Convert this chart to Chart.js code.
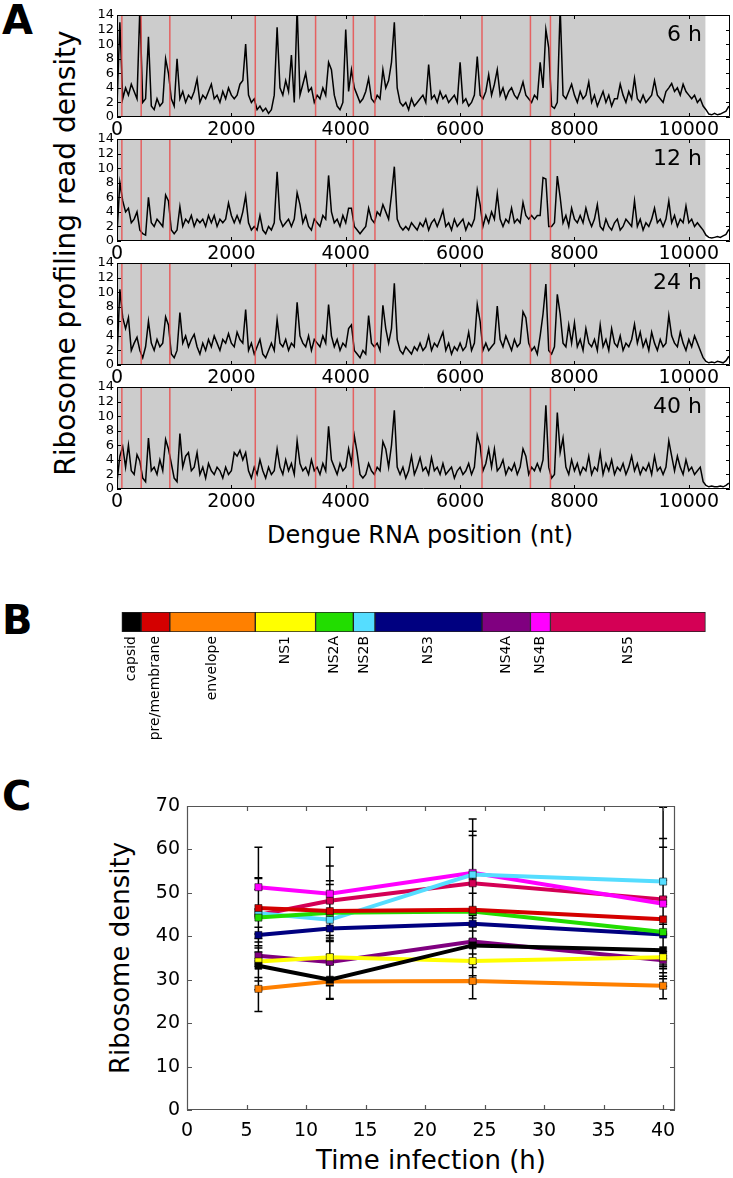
<!DOCTYPE html>
<html>
<head>
<meta charset="utf-8">
<script src="https://cdn.jsdelivr.net/npm/chart.js@4.4.1/dist/chart.umd.min.js"></script>
<style>
  body { margin:0; width:733px; height:1178px; position:relative; background:#fff; overflow:hidden;
         font-family:"DejaVu Sans", sans-serif; color:#000; }
  canvas { position:absolute; left:0; }
  .tag { position:absolute; left:2px; font-weight:bold; font-size:40px; line-height:1; }
  .title { position:absolute; white-space:nowrap; line-height:1; transform:translate(-50%,-50%); }
  .rot { transform:translate(-50%,-50%) rotate(-90deg); }
</style>
</head>
<body>
<div class="tag" style="top:0px">A</div>
<div class="tag" style="top:600px">B</div>
<div class="tag" style="top:776px">C</div>
<div class="title rot" style="left:66px;top:253px;font-size:28px">Ribosome profiling read density</div>
<div class="title" style="left:420px;top:535px;font-size:24px">Dengue RNA position (nt)</div>
<div class="title rot" style="left:120px;top:958px;font-size:26px">Ribosome density</div>
<div class="title" style="left:431px;top:1160px;font-size:26px">Time infection (h)</div>
<script>
// genome map (nt)
const geneNames = ["capsid", "pre/membrane", "envelope", "NS1", "NS2A", "NS2B", "NS3", "NS4A", "NS4B", "NS5"];
const geneStart = [85, 423, 924, 2418, 3473, 4133, 4511, 6383, 7230, 7580];
const geneEnd   = [423, 924, 2418, 3473, 4133, 4511, 6383, 7230, 7580, 10290];
const geneColors = ["#000000", "#d40000", "#ff8000", "#ffff00", "#22dd00", "#55ddff", "#000080", "#800080", "#ff00ff", "#d40055"];

// panel A: read density sampled every 50 nt
const sampleStep = 50;
const genomeLength = 10720;
const positionTicks = [0, 2000, 4000, 6000, 8000, 10000];
const densityTicks = [0, 2, 4, 6, 8, 10, 12, 14];
const timeLabels = ["6 h", "12 h", "24 h", "40 h"];

const density6h = [
  1.5, 13, 2.5, 4, 3, 4.5, 3.5, 2.5, 15, 2,
  2.5, 11, 1.5, 1, 2.5, 1.5, 2, 8, 6, 2.5,
  1.5, 8, 2.5, 3.5, 2, 3, 2.5, 3.5, 5.2, 2,
  3, 2.5, 3.5, 4.5, 2.5, 3, 2, 3.5, 2.5, 4,
  3, 2.5, 3, 4.5, 5, 10, 3, 2, 2.5, 1,
  1.5, 0.8, 1.2, 0.5, 1, 3, 12.3, 4, 3, 5,
  3.5, 8.5, 2, 15, 3, 4.5, 6, 3.5, 4, 2,
  3, 2.5, 4, 3, 7.5, 6.5, 3, 1.5, 1, 2,
  12, 3.5, 6.5, 4, 3, 2, 2.5, 3.5, 5.3, 2.5,
  2, 3, 2.5, 6.5, 4, 5, 7.5, 13, 4, 2,
  1.5, 2, 1, 2.5, 1.5, 2, 2.5, 3, 2, 7.2,
  2.5, 3, 2, 3.5, 2.5, 3, 2, 2.5, 3, 2,
  7.5, 2, 2.5, 1.5, 2, 3, 8.3, 3, 2.5, 3.5,
  5.8, 3, 4.5, 6.5, 3, 4, 2.5, 3.5, 4, 3,
  2.5, 3.5, 4.8, 3, 2.5, 2, 3, 2.5, 7.5, 4,
  12, 9.5, 1.5, 1.2, 2, 15, 3, 2.5, 3.5, 4.5,
  3, 2, 3.5, 2.5, 3, 4.8, 2, 3, 1.5, 2.5,
  3.5, 2, 3, 1.5, 2.5, 2.5, 4.5, 3, 2, 3.5,
  2.5, 5.3, 2.5, 2, 3, 2, 2.5, 3, 5, 3,
  2.5, 2, 3.5, 4, 4.6, 3.5, 4, 3, 4.5, 3.5,
  3, 2.5, 3, 2, 2.5, 1.5, 1, 0.4, 0.3, 0.5,
  0.3, 0.4, 0.6, 0.8, 1.5
];
const density12h = [
  1, 8, 5.5, 4, 4.5, 2.5, 3, 4, 1.5, 1,
  0.8, 6, 2.5, 2, 3, 2.5, 2, 6.3, 5.5, 1.5,
  1, 1.5, 4.7, 2, 3, 2.5, 3.5, 2, 3, 2.5,
  3, 2, 3.5, 2.5, 3.5, 2, 3, 2.5, 3, 5.2,
  3.5, 2.5, 3.5, 2.5, 4, 6.2, 2.5, 1.5, 2, 1.5,
  3.5, 1.5, 1, 2, 1.5, 2.5, 9.5, 3, 2, 2.5,
  3, 2, 3, 6.6, 5, 2.5, 3.5, 2, 1.5, 3,
  2.5, 2, 3.5, 3, 9, 4, 2.5, 3, 2, 3.5,
  2.5, 4.5, 4.5, 2, 1.5, 1, 1.5, 2, 4.5, 3,
  2.5, 4, 3.5, 5, 4, 3, 6.3, 10.2, 3, 2,
  1.5, 2, 1.5, 2.5, 2, 1.5, 2.5, 2, 3, 1.5,
  2.5, 3, 2, 3, 4.2, 2, 2.5, 1.5, 3, 2,
  2.5, 3, 1.5, 2.5, 2, 3, 7, 5, 2, 3.5,
  2.5, 4, 3, 6.5, 3, 2, 3, 2.5, 4.5, 2.5,
  3, 2.5, 5.3, 3.5, 3, 3.5, 3, 3.5, 3.5, 8.7,
  8.5, 2, 2, 2.5, 8.9, 6, 2.5, 3.5, 2, 4.5,
  3, 2.5, 3.5, 2.5, 4.5, 3, 2, 3, 5, 2,
  1.5, 3, 2, 1.5, 2.5, 3, 1.5, 2, 3, 2.5,
  2, 5.5, 2, 3, 1.5, 2.5, 2, 3, 4.5, 2.5,
  3, 2, 3, 5.5, 2.5, 3.5, 2, 3, 2.5, 4.8,
  2.5, 3, 2, 2.5, 2, 1.5, 0.8, 0.5, 0.4, 0.5,
  0.6, 0.5, 0.7, 0.9, 1.6
];
const density24h = [
  1, 10.4, 6.5, 5, 6.5, 2, 3, 3.8, 2, 1,
  2.5, 6, 3, 2, 3.5, 2.5, 3, 6.6, 5.5, 1.5,
  1, 2, 7.2, 3, 4, 2.5, 3.5, 4.2, 2.5, 1.5,
  3, 2, 3.5, 2.5, 4, 3, 2, 3.5, 3, 4.3,
  3, 2.5, 4.5, 3.5, 3, 7.6, 2, 3, 1.5, 2.5,
  3.5, 1.5, 1, 2, 3, 2, 6.2, 3, 2.5, 3.5,
  2, 3, 2.5, 8.6, 4, 3, 2.5, 4, 2, 3.5,
  3, 2.5, 4, 3, 8.3, 4, 2.5, 3.5, 2, 3,
  2.5, 5, 5.5, 2, 1.5, 1, 2, 1.5, 6.8, 3,
  2.5, 3, 2, 8.2, 5, 3, 5, 11.2, 3.5, 2,
  1.5, 2.5, 2, 1.5, 2.5, 2, 3, 2, 2.5, 4,
  2, 3, 2.5, 3.5, 4.5, 2, 3, 1.5, 2.5, 2,
  3, 2, 2.5, 4.5, 2, 3, 8.3, 6, 2, 3,
  2, 2.5, 3, 8.1, 3.5, 2.5, 4, 3, 2, 3.5,
  2.5, 3, 7.3, 6.5, 3, 2, 2.5, 1.5, 4, 7,
  11.1, 2, 1.5, 2.5, 9.7, 7, 3, 2.5, 5.5, 3,
  5.8, 2.5, 3.5, 2, 5, 3, 2.5, 3.5, 2, 5.5,
  2.5, 3.5, 2, 5, 3, 2.5, 4, 2, 3, 2.5,
  3.5, 5.6, 3, 4.5, 2.5, 3.5, 2, 4.5, 3, 2,
  3.5, 2.5, 3, 6.8, 4, 3, 2.5, 4.5, 3, 2,
  3.5, 2.5, 4, 3, 2, 1, 0.5, 0.3, 0.4, 0.3,
  0.5, 0.4, 0.3, 0.6, 1.2
];
const density40h = [
  1, 4.5, 5.8, 3, 6, 2.5, 2, 4.7, 3.8, 1.5,
  1, 7, 2.5, 3, 2, 4, 2.5, 6.8, 5.5, 3.5,
  1.5, 1, 7.6, 3, 4.5, 5, 2.5, 3, 5, 2,
  3, 1.5, 3.5, 2.5, 2, 3, 2.5, 1.5, 3, 2,
  2.5, 5, 4.5, 5.3, 4, 5, 2.5, 1.5, 3, 2,
  4, 2.5, 1.5, 3, 2, 2.5, 5.5, 3, 2, 4,
  2.5, 3.5, 2, 6.6, 3.5, 2.5, 3, 2, 4, 2.5,
  3, 2, 3.5, 2.5, 8.6, 4, 3, 2, 3.5, 2.5,
  3, 5.5, 3.5, 7.3, 5, 2, 1.5, 2, 3.5, 2.5,
  2, 3, 2.5, 6.5, 5.5, 3, 6, 10.8, 3, 2,
  3, 1.5, 2.5, 4.5, 2, 3, 4.3, 2.5, 3, 2,
  4.3, 2.5, 3, 2, 3.5, 2, 2.5, 3, 1.5, 2.5,
  3, 2, 2.5, 3.5, 2, 3, 7.4, 6, 2.5, 3.5,
  5.5, 3, 5.5, 2.5, 3, 4, 2, 3, 2.5, 3.5,
  2, 3, 5.5, 4.5, 2, 3, 2.5, 3.5, 2.5, 4,
  11.5, 3, 1.5, 2, 10.5, 5, 7, 3, 2, 4,
  2.5, 3.5, 2, 3, 2.5, 4.5, 2, 3, 2.5, 5,
  2, 3.5, 2.5, 4, 2, 3, 2.5, 3.5, 2, 3,
  4.5, 2.5, 3.5, 2, 3, 2.5, 3.5, 2, 4.5, 2.5,
  3, 2, 3, 6.6, 4.5, 2.5, 4.5, 3, 2, 4,
  2.5, 3, 2, 2.5, 3, 1, 0.5, 0.3, 0.4, 0.3,
  0.3, 0.4, 0.3, 0.5, 0.8
];

// panel C: mean ribosome density per gene and its error
const hours = [6, 12, 24, 40];
const hourTicks = [0, 5, 10, 15, 20, 25, 30, 35, 40];
const riboTicks = [0, 10, 20, 30, 40, 50, 60, 70];
const meanCapsid   = [33.2, 30.0, 37.9, 36.8];
const meanPrM      = [46.5, 45.8, 46.1, 43.9];
const meanEnvelope = [27.9, 29.6, 29.7, 28.6];
const meanNS1      = [34.2, 35.2, 34.3, 35.2];
const meanNS2A     = [44.3, 45.4, 45.7, 41.0];
const meanNS2B     = [45.3, 43.8, 54.2, 52.6];
const meanNS3      = [40.3, 41.8, 42.9, 40.4];
const meanNS4A     = [35.5, 34.1, 38.8, 34.5];
const meanNS4B     = [51.3, 49.8, 54.6, 47.5];
const meanNS5      = [44.9, 48.2, 52.2, 48.5];
const errCapsid   = [5.5, 4.5, 7.0, 6.0];
const errPrM      = [7.0, 7.0, 8.0, 9.0];
const errEnvelope = [5.2, 3.9, 4.1, 3.0];
const errNS1      = [4.5, 5.0, 5.0, 5.0];
const errNS2A     = [6.5, 6.5, 7.5, 8.0];
const errNS2B     = [8.0, 9.0, 10.0, 17.1];
const errNS3      = [6.0, 6.0, 7.0, 7.0];
const errNS4A     = [5.0, 5.5, 6.0, 6.0];
const errNS4B     = [9.2, 10.7, 12.4, 15.0];
const errNS5      = [8.5, 8.0, 11.0, 12.0];

const riboMeans = [meanCapsid, meanPrM, meanEnvelope, meanNS1, meanNS2A, meanNS2B, meanNS3, meanNS4A, meanNS4B, meanNS5];
const riboErrs = [errCapsid, errPrM, errEnvelope, errNS1, errNS2A, errNS2B, errNS3, errNS4A, errNS4B, errNS5];

Chart.defaults.font.family = "DejaVu Sans";
Chart.defaults.color = "#000";

function addCanvas(top, height) {
  const c = document.createElement("canvas");
  c.width = 733;
  c.height = height;
  c.style.top = top + "px";
  c.style.width = "733px";
  c.style.height = height + "px";
  document.body.appendChild(c);
  return c;
}

// box round the plot with matplotlib style inward ticks
const frame = {
  id: "frame",
  afterDraw(chart, args, o) {
    const { ctx, chartArea: a } = chart;
    const x = chart.scales.x, y = chart.scales.y;
    ctx.save();
    ctx.strokeStyle = o.color;
    ctx.lineWidth = o.width;
    ctx.beginPath();
    x.ticks.forEach(t => {
      const p = Math.round(x.getPixelForValue(t.value)) + 0.5;
      ctx.moveTo(p, a.bottom); ctx.lineTo(p, a.bottom - o.len);
      ctx.moveTo(p, a.top); ctx.lineTo(p, a.top + o.len);
    });
    y.ticks.forEach(t => {
      const p = Math.round(y.getPixelForValue(t.value)) + 0.5;
      ctx.moveTo(a.left, p); ctx.lineTo(a.left + o.len, p);
      ctx.moveTo(a.right, p); ctx.lineTo(a.right - o.len, p);
    });
    ctx.rect(a.left + 0.5, a.top + 0.5, a.width - 1, a.height - 1);
    ctx.stroke();
    ctx.restore();
  }
};

// grey coding region, red gene borders, time label
const genomeShade = {
  id: "genomeShade",
  beforeDatasetsDraw(chart) {
    const { ctx, chartArea: a, scales: { x } } = chart;
    const x0 = x.getPixelForValue(0);
    const x1 = x.getPixelForValue(geneEnd[geneEnd.length - 1]);
    ctx.save();
    ctx.fillStyle = "#cccccc";
    ctx.fillRect(x0, a.top, x1 - x0, a.height);
    ctx.restore();
  },
  afterDatasetsDraw(chart, args, o) {
    const { ctx, chartArea: a, scales: { x } } = chart;
    ctx.save();
    ctx.strokeStyle = "rgba(235, 70, 70, 0.8)";
    ctx.lineWidth = 1.5;
    ctx.beginPath();
    geneStart.forEach(g => {
      const p = x.getPixelForValue(g);
      ctx.moveTo(p, a.top); ctx.lineTo(p, a.bottom);
    });
    ctx.stroke();
    ctx.fillStyle = "#000";
    ctx.font = "22px 'DejaVu Sans'";
    ctx.textAlign = "right";
    ctx.textBaseline = "middle";
    ctx.fillText(o.label, a.right - 28, a.top + 20);
    ctx.restore();
  }
};

const densities = [density6h, density12h, density24h, density40h];
const panelTops = [15, 139, 263, 387];
const panelH = 102;

densities.forEach((vals, k) => {
  const c = addCanvas(panelTops[k] - 10, 10 + panelH + 28);
  new Chart(c, {
    type: "line",
    data: {
      datasets: [{
        data: vals.map((v, i) => ({ x: i * sampleStep, y: v })),
        borderColor: "#000",
        borderWidth: 1.5,
        pointRadius: 0,
        tension: 0
      }]
    },
    options: {
      responsive: false,
      animation: false,
      events: [],
      layout: { padding: { top: 10, right: 3, left: 0, bottom: 0 } },
      plugins: {
        legend: { display: false },
        tooltip: { enabled: false },
        frame: { color: "#000", width: 1, len: 4 },
        genomeShade: { label: timeLabels[k] }
      },
      scales: {
        x: {
          type: "linear", min: 0, max: genomeLength,
          grid: { display: false, drawTicks: false },
          border: { display: false },
          afterBuildTicks: s => { s.ticks = positionTicks.map(v => ({ value: v })); },
          afterFit: s => { s.height = 28; },
          ticks: { font: { size: 19 }, padding: 2, maxRotation: 0, autoSkip: false, callback: v => String(v) }
        },
        y: {
          min: 0, max: 14,
          grid: { display: false, drawTicks: false },
          border: { display: false },
          afterBuildTicks: s => { s.ticks = densityTicks.map(v => ({ value: v })); },
          afterFit: s => { s.width = 117; },
          ticks: { font: { size: 13, lineHeight: 1 }, padding: 3, autoSkip: false, callback: v => String(v) }
        }
      }
    },
    plugins: [genomeShade, frame]
  });
});

// panel B: genome map as floating bars
const cB = addCanvas(608, 140);
new Chart(cB, {
  type: "bar",
  data: {
    labels: ["genome"],
    datasets: geneNames.map((g, i) => ({
      label: g,
      data: [[geneStart[i], geneEnd[i]]],
      backgroundColor: geneColors[i],
      borderColor: "#222",
      borderWidth: 1,
      borderSkipped: false,
      grouped: false,
      barPercentage: 1,
      categoryPercentage: 1
    }))
  },
  options: {
    indexAxis: "y",
    responsive: false,
    animation: false,
    events: [],
    layout: { padding: { top: 4, right: 3, left: 0, bottom: 0 } },
    plugins: { legend: { display: false }, tooltip: { enabled: false } },
    scales: {
      x: {
        type: "linear", min: 0, max: genomeLength,
        grid: { display: false, drawTicks: false },
        border: { display: false },
        afterBuildTicks: s => { s.ticks = geneStart.map((v, i) => ({ value: (v + geneEnd[i]) / 2 })); },
        afterFit: s => { s.height = 116; },
        ticks: { autoSkip: false, minRotation: 90, maxRotation: 90, font: { size: 14 }, padding: 4,
                 callback: (v, i) => geneNames[i] }
      },
      y: {
        grid: { display: false, drawTicks: false },
        border: { display: false },
        ticks: { display: false },
        afterFit: s => { s.width = 117; }
      }
    }
  }
});

// panel C: ribosome density over time with error bars
const errorBars = {
  id: "errorBars",
  beforeDatasetsDraw(chart) {
    const { ctx, scales: { x, y } } = chart;
    ctx.save();
    ctx.strokeStyle = "#000";
    ctx.lineWidth = 1.5;
    ctx.beginPath();
    riboMeans.forEach((means, i) => {
      means.forEach((m, j) => {
        const px = x.getPixelForValue(hours[j]);
        const top = y.getPixelForValue(m + riboErrs[i][j]);
        const bot = y.getPixelForValue(m - riboErrs[i][j]);
        ctx.moveTo(px, top); ctx.lineTo(px, bot);
        ctx.moveTo(px - 4, top); ctx.lineTo(px + 4, top);
        ctx.moveTo(px - 4, bot); ctx.lineTo(px + 4, bot);
      });
    });
    ctx.stroke();
    ctx.restore();
  }
};

const cC = addCanvas(780, 398);
new Chart(cC, {
  type: "line",
  data: {
    datasets: geneNames.map((g, i) => ({
      label: g,
      data: hours.map((h, j) => ({ x: h, y: riboMeans[i][j] })),
      borderColor: geneColors[i],
      backgroundColor: geneColors[i],
      borderWidth: 4,
      pointStyle: "rect",
      pointRadius: 5,
      pointBorderColor: "rgba(0,0,0,0.55)",
      pointBorderWidth: 1,
      tension: 0
    }))
  },
  options: {
    responsive: false,
    animation: false,
    events: [],
    layout: { padding: { top: 26, right: 58, left: 0, bottom: 0 } },
    plugins: {
      legend: { display: false },
      tooltip: { enabled: false },
      frame: { color: "#555", width: 1.2, len: 5 }
    },
    scales: {
      x: {
        type: "linear", min: 0, max: 41,
        grid: { display: false, drawTicks: false },
        border: { display: false },
        afterBuildTicks: s => { s.ticks = hourTicks.map(v => ({ value: v })); },
        afterFit: s => { s.height = 68; },
        ticks: { font: { size: 19 }, padding: 10, maxRotation: 0, autoSkip: false, callback: v => String(v) }
      },
      y: {
        min: 0, max: 70,
        grid: { display: false, drawTicks: false },
        border: { display: false },
        afterBuildTicks: s => { s.ticks = riboTicks.map(v => ({ value: v })); },
        afterFit: s => { s.width = 187; },
        ticks: { font: { size: 19 }, padding: 7, autoSkip: false, callback: v => String(v) }
      }
    }
  },
  plugins: [errorBars, frame]
});
</script>
</body>
</html>
